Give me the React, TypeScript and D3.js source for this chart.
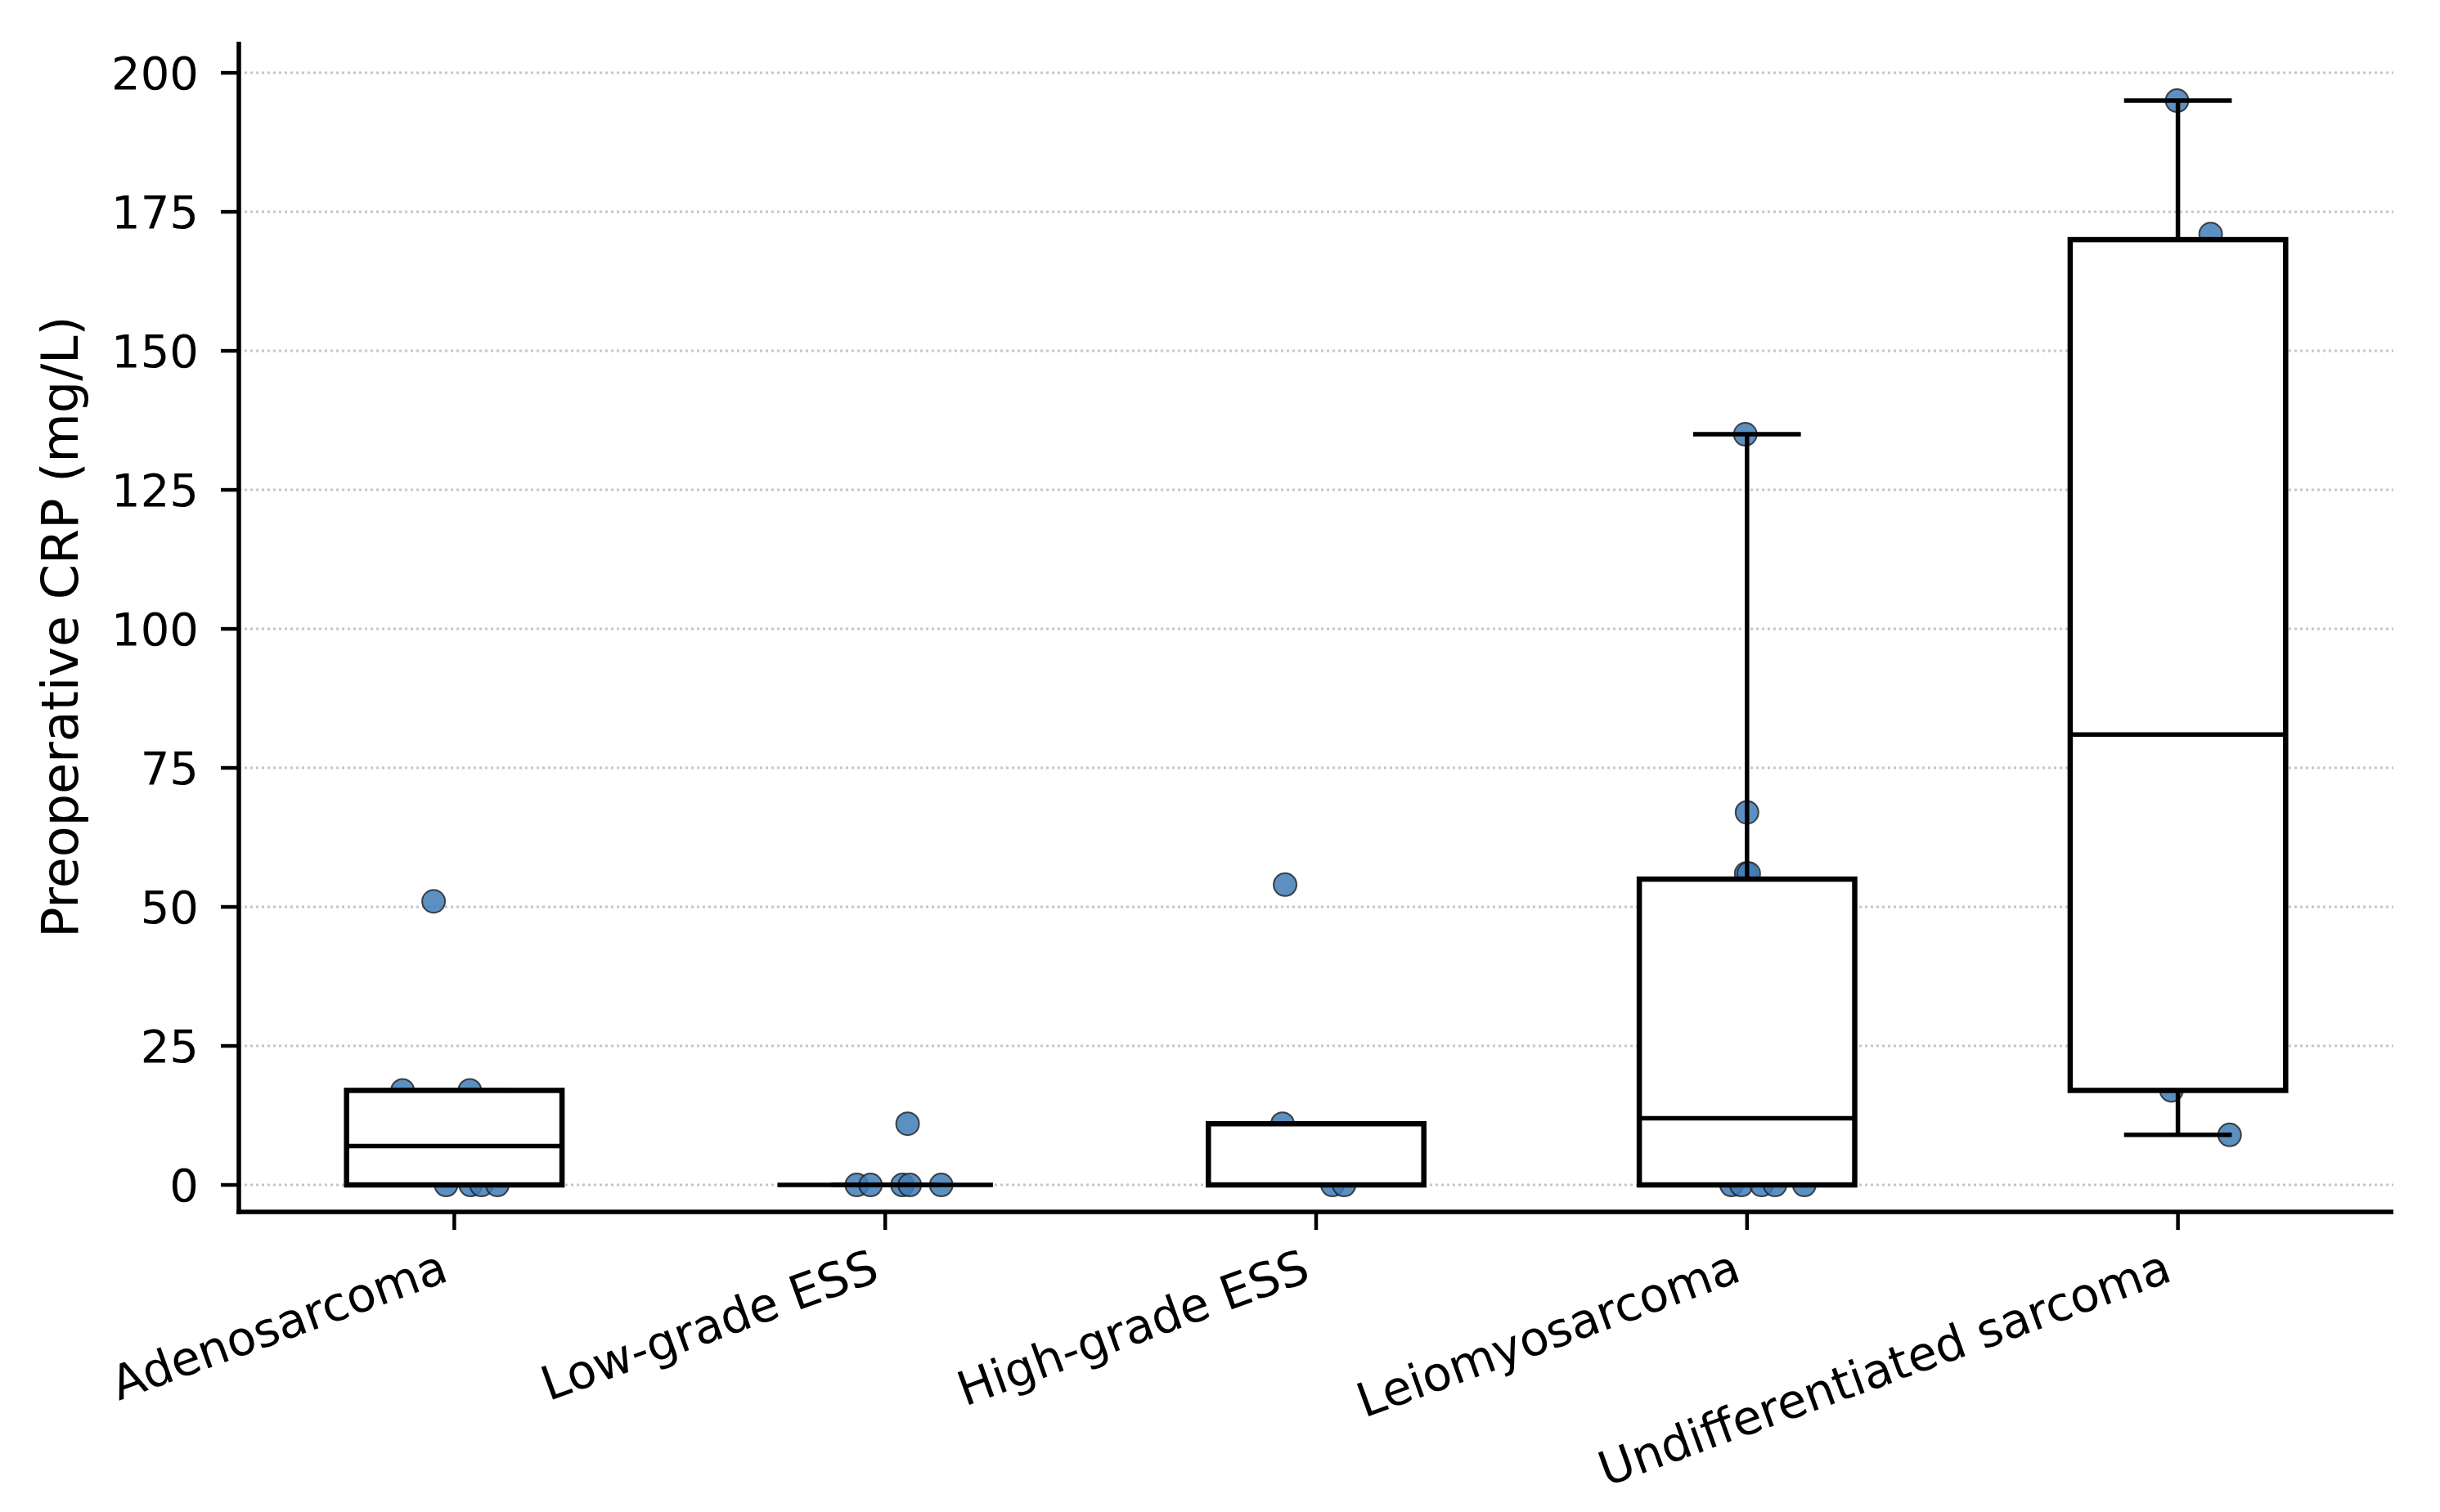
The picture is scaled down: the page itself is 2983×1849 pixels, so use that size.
import { useRef, useEffect } from "react";
import * as d3 from "d3";

const categories = [
  "Adenosarcoma",
  "Low-grade ESS",
  "High-grade ESS",
  "Leiomyosarcoma",
  "Undifferentiated sarcoma",
];

// box summary (mg/L)
const q1 = [0, 0, 0, 0, 17];
const medians = [7, 0, 0, 12, 81];
const q3 = [17, 0, 11, 55, 170];
const whiskerLow = [0, 0, 0, 0, 9];
const whiskerHigh = [17, 0, 11, 135, 195];

// individual patients per group, with the strip jitter (category units)
const pointValues = [
  [51, 17, 17, 0, 0, 0, 0],
  [11, 0, 0, 0, 0, 0],
  [54, 11, 0, 0],
  [135, 67, 56, 56, 0, 0, 0, 0, 0],
  [195, 171, 17, 9],
];
const pointJitter = [
  [-0.048, -0.12, 0.036, -0.019, 0.038, 0.063, 0.1],
  [0.052, -0.066, -0.034, 0.04, 0.057, 0.13],
  [-0.072, -0.078, 0.038, 0.065],
  [-0.004, 0, -0.002, 0.004, -0.036, -0.013, 0.034, 0.065, 0.133],
  [-0.002, 0.076, -0.015, 0.12],
];

const yTicks = [0, 25, 50, 75, 100, 125, 150, 175, 200];

const WIDTH = 2983;
const HEIGHT = 1849;
const FONT = "'DejaVu Sans', sans-serif";

export default function App() {
  const svgRef = useRef<SVGSVGElement>(null);

  useEffect(() => {
    document.body.style.margin = "0";
    if (!svgRef.current) return;

    const svg = d3.select(svgRef.current);
    svg.selectAll("*").remove();

    const left = 292;
    const right = 2926;
    const top = 51;
    const bottom = 1482;

    const x = d3.scaleLinear().domain([-0.5, categories.length - 0.5]).range([left, right]);
    const y = d3.scaleLinear().domain([-4.85, 205.6]).range([bottom, top]);

    svg.append("rect").attr("width", WIDTH).attr("height", HEIGHT).attr("fill", "#fff");

    // grid
    svg
      .append("g")
      .selectAll("line")
      .data(yTicks)
      .enter()
      .append("line")
      .attr("x1", left)
      .attr("x2", right)
      .attr("y1", (d) => y(d))
      .attr("y2", (d) => y(d))
      .attr("stroke", "#c6c6c6")
      .attr("stroke-width", 3)
      .attr("stroke-dasharray", "3 4");

    // points (under the boxes)
    const pts = pointValues.flatMap((vals, i) =>
      vals.map((v, j) => ({ i, v, jit: pointJitter[i][j] }))
    );
    svg
      .append("g")
      .selectAll("circle")
      .data(pts)
      .enter()
      .append("circle")
      .attr("cx", (d) => x(d.i + d.jit))
      .attr("cy", (d) => y(d.v))
      .attr("r", 14)
      .attr("fill", "#3f7db6")
      .attr("fill-opacity", 0.85)
      .attr("stroke", "#1e1e1e")
      .attr("stroke-opacity", 0.8)
      .attr("stroke-width", 2);

    const boxW = 0.25; // half box width
    const capW = 0.125;
    const boxes = svg.append("g");
    categories.forEach((_, i) => {
      const g = boxes.append("g");
      g.append("line")
        .attr("x1", x(i))
        .attr("x2", x(i))
        .attr("y1", y(q3[i]))
        .attr("y2", y(whiskerHigh[i]))
        .attr("stroke", "#000")
        .attr("stroke-width", 5.5);
      g.append("line")
        .attr("x1", x(i))
        .attr("x2", x(i))
        .attr("y1", y(q1[i]))
        .attr("y2", y(whiskerLow[i]))
        .attr("stroke", "#000")
        .attr("stroke-width", 5.5);
      [whiskerLow[i], whiskerHigh[i]].forEach((v) => {
        g.append("line")
          .attr("x1", x(i - capW))
          .attr("x2", x(i + capW))
          .attr("y1", y(v))
          .attr("y2", y(v))
          .attr("stroke", "#000")
          .attr("stroke-width", 5.5);
      });
      g.append("rect")
        .attr("x", x(i - boxW))
        .attr("width", x(i + boxW) - x(i - boxW))
        .attr("y", y(q3[i]))
        .attr("height", Math.max(0, y(q1[i]) - y(q3[i])))
        .attr("fill", "#fff")
        .attr("stroke", "#000")
        .attr("stroke-width", 6.5);
      g.append("line")
        .attr("x1", x(i - boxW))
        .attr("x2", x(i + boxW))
        .attr("y1", y(medians[i]))
        .attr("y2", y(medians[i]))
        .attr("stroke", "#000")
        .attr("stroke-width", 5.5);
    });

    // y axis
    const ya = svg.append("g").attr("transform", `translate(${left},0)`);
    ya.selectAll("line.tick")
      .data(yTicks)
      .enter()
      .append("line")
      .attr("x1", -22)
      .attr("x2", 0)
      .attr("y1", (d) => y(d))
      .attr("y2", (d) => y(d))
      .attr("stroke", "#000")
      .attr("stroke-width", 4.5);
    ya.selectAll("text")
      .data(yTicks)
      .enter()
      .append("text")
      .attr("x", -49)
      .attr("y", (d) => y(d))
      .attr("dy", "0.364em")
      .attr("text-anchor", "end")
      .attr("font-family", FONT)
      .attr("font-size", 56)
      .attr("fill", "#000")
      .text((d) => d);

    // x axis
    const xa = svg.append("g").attr("transform", `translate(0,${bottom})`);
    xa.selectAll("line")
      .data(categories)
      .enter()
      .append("line")
      .attr("x1", (_, i) => x(i))
      .attr("x2", (_, i) => x(i))
      .attr("y1", 0)
      .attr("y2", 22)
      .attr("stroke", "#000")
      .attr("stroke-width", 4.5);
    xa.selectAll("text")
      .data(categories)
      .enter()
      .append("text")
      .attr("transform", (_, i) => `translate(${x(i) - 20},42) rotate(-20)`)
      .attr("dy", "0.76em")
      .attr("text-anchor", "end")
      .attr("font-family", FONT)
      .attr("font-size", 58)
      .attr("fill", "#000")
      .text((d) => d);

    // spines
    svg
      .append("line")
      .attr("x1", left)
      .attr("x2", left)
      .attr("y1", top)
      .attr("y2", bottom + 2.75)
      .attr("stroke", "#000")
      .attr("stroke-width", 5.5);
    svg
      .append("line")
      .attr("x1", left - 2.75)
      .attr("x2", right)
      .attr("y1", bottom)
      .attr("y2", bottom)
      .attr("stroke", "#000")
      .attr("stroke-width", 5.5);

    svg
      .append("text")
      .attr("transform", `translate(95,${(top + bottom) / 2}) rotate(-90)`)
      .attr("text-anchor", "middle")
      .attr("font-family", FONT)
      .attr("font-size", 62)
      .attr("fill", "#000")
      .text("Preoperative CRP (mg/L)");
  }, []);

  return <svg ref={svgRef} width={WIDTH} height={HEIGHT} style={{ display: "block" }} />;
}
